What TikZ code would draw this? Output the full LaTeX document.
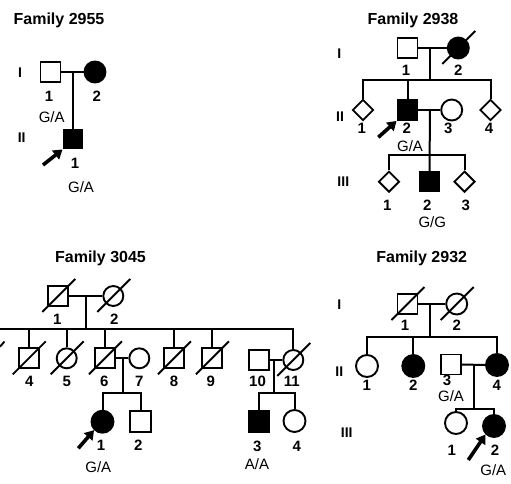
\documentclass[tikz,border=0pt]{standalone}
\usepackage{fontspec}
\setmainfont{Liberation Sans}
\usetikzlibrary{shapes.geometric,arrows.meta,calc}
\newcommand\dslash[1]{\draw[dec] ($(#1)+(-16,16)$) -- ($(#1)+(17,-17)$);}
\begin{document}
\begin{tikzpicture}[x=1pt,y=-1pt,
  sym/.style={draw,line width=1.9pt,inner sep=0pt,fill=white},
  male/.style={sym,rectangle,minimum size=20pt},
  female/.style={sym,circle,minimum size=21pt},
  unk/.style={sym,diamond,minimum size=21pt},
  aff/.style={fill=black},
  num/.style={font=\fontsize{15}{17}\selectfont\bfseries,inner sep=0pt},
  geno/.style={font=\fontsize{15}{17}\selectfont,inner sep=0pt},
  gen/.style={font=\fontsize{14}{16}\selectfont\bfseries,inner sep=0pt},
  ttl/.style={font=\fontsize{16}{18}\selectfont\bfseries,inner sep=0pt},
  ln/.style={line width=2pt},
  dec/.style={line width=1.9pt},
  prob/.style={line width=3.6pt,-{Triangle[length=9pt,width=11pt]}}
]
\useasboundingbox (0,0) rectangle (511,483);

% ---------------- Family 2955 ----------------
\node[ttl] (t1) at (59,20.5) {Family 2955};
\node[gen] (a1g) at (20,73) {I};
\node[gen] (a2g) at (21.7,138) {II};
\node[male] (a11) at (50.5,72) {};
\node[female,aff] (a12) at (95,72) {};
\draw[ln] (a11.east) -- (a12.west);
\coordinate (a1m) at (73,72);
\node[male,aff,minimum size=19pt] (a21) at (73,139) {};
\draw[ln] (a1m) -- (a21.north);
\node[num] (a11n) at (49,96) {1};
\node[num] (a12n) at (96.7,96) {2};
\node[geno] (a11g) at (51.7,117) {G/A};
\node[num] (a21n) at (75,163) {1};
\node[geno] (a21g) at (81,187) {G/A};
\coordinate (a21p) at (43,165);
\draw[prob] (a21p) -- (a21.south west);

% ---------------- Family 2938 ----------------
\node[ttl] (t2) at (413,20) {Family 2938};
\node[gen] (b1g) at (339.3,53.3) {I};
\node[gen] (b2g) at (340,116.7) {II};
\node[gen] (b3g) at (343.3,181.7) {III};
\node[male] (b11) at (407.5,48) {};
\node[female,aff] (b12) at (458.3,48) {};
\draw[ln] (b11.east) -- (b12.west);
\dslash{b12}
\coordinate (b1m) at (430,48);
\coordinate (b2s) at (430,80);
\draw[ln] (b1m) -- (b2s);
\node[unk] (b21) at (363,110) {};
\node[male,aff] (b22) at (407.5,110) {};
\node[female] (b23) at (451.7,110) {};
\node[unk] (b24) at (490.5,110) {};
\draw[ln] (b21.north) -- (b21.north |- b2s) -- (b24.north |- b2s) -- (b24.north);
\draw[ln] (b22.north) -- (b22.north |- b2s);
\draw[ln] (b22.east) -- (b23.west);
\coordinate (b2m) at (430,110);
\coordinate (b3s) at (430,155);
\node[unk] (b31) at (389,181.7) {};
\node[male,aff,minimum size=19pt] (b32) at (429.5,181.2) {};
\node[unk] (b33) at (464.5,181.7) {};
\draw[ln] (b2m) -- (b32.north);
\draw[ln] (b31.north) -- (b31.north |- b3s) -- (b33.north |- b3s) -- (b33.north);
\node[num] (b11n) at (406,70) {1};
\node[num] (b12n) at (458.3,70) {2};
\node[num] (b21n) at (361.7,128.3) {1};
\node[num] (b22n) at (406.7,128.3) {2};
\node[num] (b23n) at (448.3,128.3) {3};
\node[num] (b24n) at (489,128.3) {4};
\node[geno] (b22g) at (410,145.7) {G/A};
\node[num] (b31n) at (387.3,205) {1};
\node[num] (b32n) at (427.3,205) {2};
\node[num] (b33n) at (465.7,205) {3};
\node[geno] (b32g) at (432.3,221.7) {G/G};
\coordinate (b22p) at (378.3,137.3);
\draw[prob] (b22p) -- (b22.south west);

% ---------------- Family 3045 ----------------
\node[ttl] (t3) at (100.5,258.5) {Family 3045};
\node[male] (c11) at (58.3,296) {};
\node[female,minimum size=20pt] (c12) at (113.3,296) {};
\draw[ln] (c11.east) -- (c12.west);
\dslash{c11}
\dslash{c12}
\coordinate (c1m) at (86,296);
\coordinate (c2s) at (86,329.3);
\coordinate (c2l) at (0,329.3);
\draw[ln] (c1m) -- (c2s);
\node[male] (c24) at (28.8,358.3) {};
\node[female,minimum size=20pt] (c25) at (66.7,358.3) {};
\node[male] (c26) at (105,358.3) {};
\node[female,minimum size=20pt] (c27) at (139.3,358.3) {};
\node[male] (c28) at (174,358.3) {};
\node[male] (c29) at (212,358.3) {};
\node[male] (c210) at (259.3,360) {};
\node[female,minimum size=20pt] (c211) at (293.3,360) {};
\draw[ln] (c2l) -- (c211.north |- c2s) -- (c211.north);
\foreach \n in {c24,c25,c26,c28,c29}{\draw[ln] (\n.north) -- (\n.north |- c2s);}
\foreach \n in {c24,c25,c26,c28,c29,c211}{\dslash{\n}}
\coordinate (c0a) at (0,346.7);
\coordinate (c0b) at (4.5,341.5);
\draw[dec] (c0a) -- (c0b);
\draw[ln] (c26.east) -- (c27.west);
\draw[ln] (c210.east) -- (c211.west);
\coordinate (c2m) at (122.7,358.3);
\coordinate (c3s) at (122.7,392.7);
\draw[ln] (c2m) -- (c3s);
\node[female,aff,minimum size=22pt] (c31) at (102.5,421.7) {};
\node[male,minimum size=21pt] (c32) at (140.5,421.7) {};
\draw[ln] (c31.north) -- (c31.north |- c3s) -- (c32.north |- c3s) -- (c32.north);
\coordinate (c2m2) at (274.3,360);
\coordinate (c3s2) at (274.3,392.5);
\draw[ln] (c2m2) -- (c3s2);
\node[male,aff,minimum size=21pt] (c33) at (259,421.5) {};
\node[female,minimum size=22pt] (c34) at (294.5,421) {};
\draw[ln] (c33.north) -- (c33.north |- c3s2) -- (c34.north |- c3s2) -- (c34.north);
\node[num] (c11n) at (57.3,319) {1};
\node[num] (c12n) at (114.3,319) {2};
\node[num] (c24n) at (29.3,381.7) {4};
\node[num] (c25n) at (66.7,381.7) {5};
\node[num] (c26n) at (104.3,381.7) {6};
\node[num] (c27n) at (139.3,381.7) {7};
\node[num] (c28n) at (174,381.7) {8};
\node[num] (c29n) at (210.7,381.7) {9};
\node[num] (c210n) at (257.5,381.3) {10};
\node[num] (c211n) at (291.7,381.3) {11};
\node[num] (c31n) at (101,445) {1};
\node[num] (c32n) at (138.3,445) {2};
\node[geno] (c31g) at (98.3,466.7) {G/A};
\node[num] (c33n) at (257.3,446.5) {3};
\node[num] (c34n) at (296.7,446.5) {4};
\node[geno] (c33g) at (257,464.5) {A/A};
\coordinate (c31p) at (78.3,448.3);
\draw[prob] (c31p) -- (c31.south west);

% ---------------- Family 2932 ----------------
\node[ttl] (t4) at (421.7,258.5) {Family 2932};
\node[gen] (d1g) at (339.3,305) {I};
\node[gen] (d2g) at (339.3,371.7) {II};
\node[gen] (d3g) at (346.7,432.7) {III};
\node[male] (d11) at (407.5,304) {};
\node[female] (d12) at (456.7,304) {};
\draw[ln] (d11.east) -- (d12.west);
\dslash{d11}
\dslash{d12}
\coordinate (d1m) at (430,304);
\coordinate (d2s) at (430,336.7);
\draw[ln] (d1m) -- (d2s);
\node[female,minimum size=22pt] (d21) at (367,366) {};
\node[female,aff,minimum size=22pt] (d22) at (413.3,366) {};
\node[male] (d23) at (451,364.5) {};
\node[female,aff,minimum size=22pt] (d24) at (497,365) {};
\draw[ln] (d21.north) -- (d21.north |- d2s) -- (d24.north |- d2s) -- (d24.north);
\draw[ln] (d22.north) -- (d22.north |- d2s);
\draw[ln] (d23.east) -- (d24.west);
\coordinate (d2m) at (474,365);
\coordinate (d3s) at (474,409.3);
\draw[ln] (d2m) -- (d3s);
\node[female,minimum size=22pt] (d31) at (456,423) {};
\node[female,aff,minimum size=22pt] (d32) at (494,426) {};
\draw[ln] (d31.north) -- (d31.north |- d3s) -- (d32.north |- d3s) -- (d32.north);
\node[num] (d11n) at (405,325) {1};
\node[num] (d12n) at (456.7,325) {2};
\node[num] (d21n) at (366.7,385) {1};
\node[num] (d22n) at (413.3,385) {2};
\node[num] (d23n) at (447,380.3) {3};
\node[geno] (d23g) at (451,396.3) {G/A};
\node[num] (d24n) at (496.7,385) {4};
\node[num] (d31n) at (451.7,450.7) {1};
\node[num] (d32n) at (495,450.7) {2};
\node[geno] (d32g) at (493.3,470) {G/A};
\coordinate (d32p) at (468.3,460);
\draw[prob] (d32p) -- (d32.south west);
\end{tikzpicture}
\end{document}
